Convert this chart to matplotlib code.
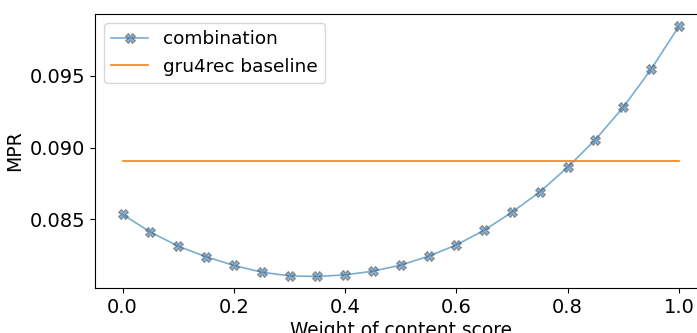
import matplotlib
matplotlib.use('Agg')
import matplotlib.pyplot as plt
import numpy as np

# weight of content score
weights = [0.0, 0.05, 0.1, 0.15, 0.2, 0.25, 0.3, 0.35, 0.4, 0.45, 0.5,
           0.55, 0.6, 0.65, 0.7, 0.75, 0.8, 0.85, 0.9, 0.95, 1.0]
# MPR of the combined model
mpr_combination = [0.08535, 0.08412, 0.08314, 0.08240, 0.08180, 0.08133,
                   0.08107, 0.08103, 0.08114, 0.08140, 0.08182, 0.08244,
                   0.08323, 0.08425, 0.08551, 0.08692, 0.08864, 0.09057,
                   0.09282, 0.09547, 0.09846]
# gru4rec baseline MPR
mpr_baseline = 0.08904
baseline_x = [0.0, 1.0]

plt.rcParams['font.size'] = 14

fig = plt.figure(figsize=(6.97, 3.33), dpi=100)
ax = fig.add_axes([0.136, 0.134, 0.878, 0.825])

ax.plot(weights, mpr_combination, color='C0', alpha=0.6, linewidth=1.2,
        marker='X', markersize=6.5, markerfacecolor='#3f7fb5',
        markeredgecolor='#555555', markeredgewidth=0.8, label='combination')
ax.plot(baseline_x, [mpr_baseline, mpr_baseline], color='C1', linewidth=1.2,
        label='gru4rec baseline')

ax.set_xlim(-0.05, 1.05)
ax.set_ylim(0.0802, 0.09934)
ax.set_xticks([0.0, 0.2, 0.4, 0.6, 0.8, 1.0])
ax.set_yticks([0.085, 0.090, 0.095])
ax.set_xlabel('Weight of content score', fontsize=13.4, labelpad=3)
ax.set_ylabel('MPR', fontsize=13.6)
ax.legend(loc='upper left', fontsize=13.3)

fig.savefig('out.png', dpi=100)
